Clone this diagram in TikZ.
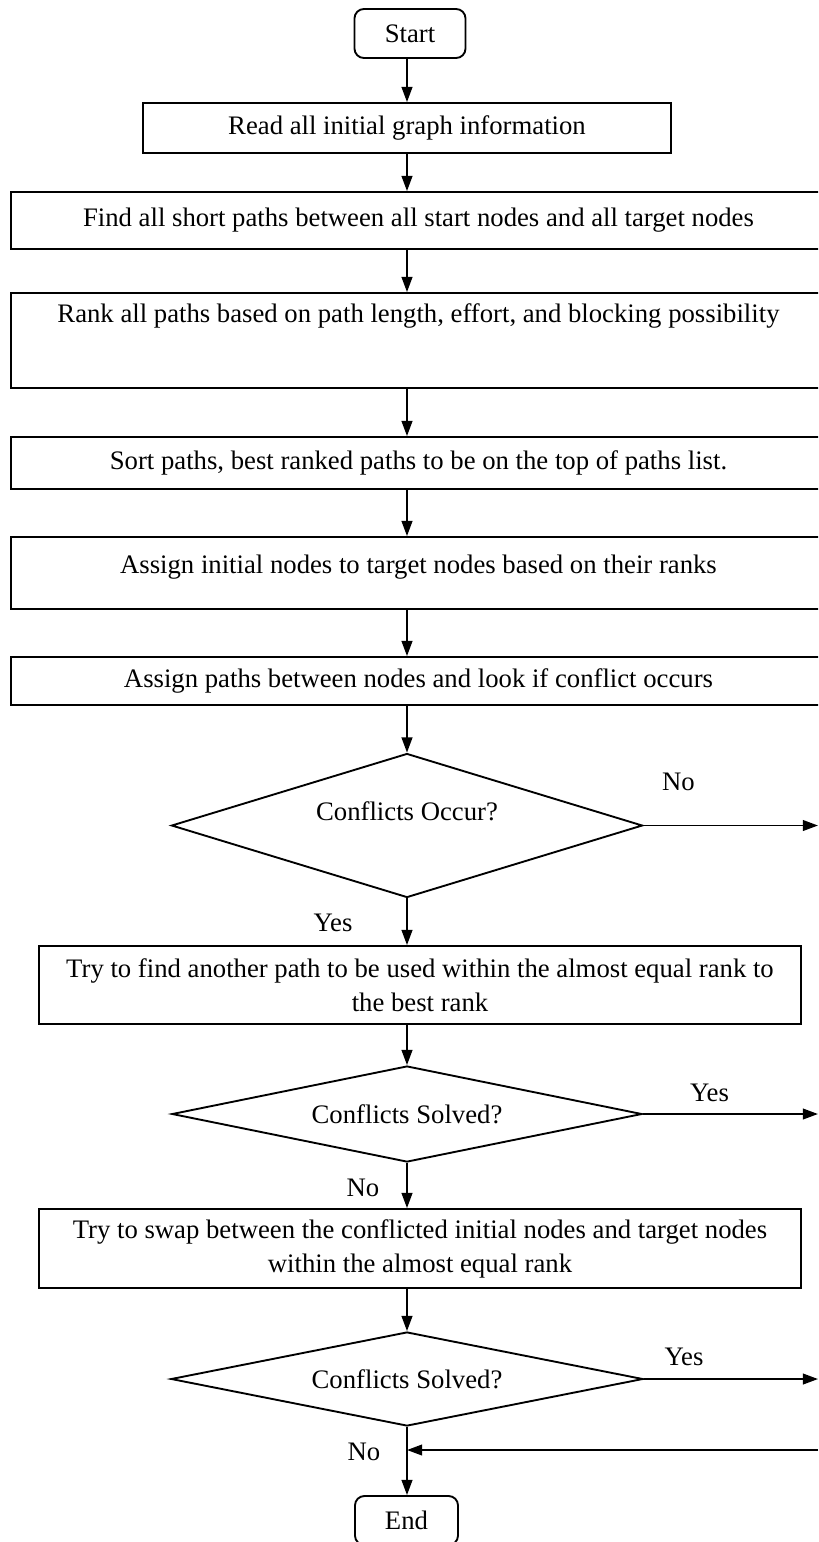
\documentclass[tikz,border=0pt]{standalone}
\usepackage{fontspec}
\setmainfont{Liberation Serif}
\usetikzlibrary{shapes.geometric, arrows.meta, positioning}

\begin{document}
\begin{tikzpicture}[
        x=0.015cm, y=-0.015cm,
        startstop/.style={rectangle, draw=black, thick, rounded corners=4pt, minimum height=0.735cm, font=\fontsize{11.4}{14}\selectfont},
        process/.style={rectangle, draw=black, thick, align=center, font=\fontsize{11.4}{14.5}\selectfont},
        decision/.style={diamond, draw=black, thick, aspect=3.3, inner sep=0pt, font=\fontsize{11.4}{14}\selectfont},
        answer/.style={font=\fontsize{11.4}{14}\selectfont},
        arrow/.style={thick, ->, >={Triangle[length=6.5pt, width=4.6pt]}}
    ]
    \useasboundingbox (0,0) rectangle (818,1542);
    \clip (0,0) rectangle (818,1542);

    \coordinate (axis) at (407,0);

    % --- START ---
    \node (start) [startstop, minimum width=1.665cm] at (410,33.5) {Start};
    \node (read) [process, minimum width=7.92cm, minimum height=0.75cm] at (407,128) {Read all initial graph information};

    % --- PATHS ---
    \node (find) [process, minimum width=12.225cm, minimum height=0.855cm] at (418.5,220.5) {Find all short paths between all start nodes and all target nodes};
    \node (rank) [process, minimum width=12.225cm, inner ysep=0pt, text height=0.445cm, text depth=0.98cm] at (418.5,340.5) {Rank all paths based on path length, effort, and blocking possibility};
    \node (sort) [process, minimum width=12.225cm, minimum height=0.78cm] at (418.5,463) {Sort paths, best ranked paths to be on the top of paths list.};

    % --- ASSIGNMENT ---
    \node (assign) [process, minimum width=12.225cm, inner ysep=0pt, text height=0.54cm, text depth=0.54cm] at (418.5,573) {Assign initial nodes to target nodes based on their ranks};
    \node (look) [process, minimum width=12.225cm, minimum height=0.72cm] at (418.5,681) {Assign paths between nodes and look if conflict occurs};

    % --- CONFLICT HANDLING ---
    \node (occur) [decision, minimum width=7.065cm, minimum height=2.16cm, text height=0.3cm, text depth=0.45cm] at (407,825.5) {Conflicts Occur?};
    \node (another) [process, minimum width=11.43cm, minimum height=1.17cm] at (420,985) {Try to find another path to be used within the almost equal rank to\\the best rank};
    \node (solved1) [decision, minimum width=7.05cm, minimum height=1.44cm] at (407,1114) {Conflicts Solved?};
    \node (swap) [process, minimum width=11.43cm, minimum height=1.185cm] at (420,1248.5) {Try to swap between the conflicted initial nodes and target nodes\\within the almost equal rank};
    \node (solved2) [decision, minimum width=7.08cm, minimum height=1.41cm] at (407,1379) {Conflicts Solved?};

    % --- END ---
    \node (end) [startstop, minimum width=1.545cm] at (406.5,1520.5) {End};

    % --- OFF-PAGE ENDS ---
    \coordinate (out1) at (818,825.5);
    \coordinate (out2) at (818,1114);
    \coordinate (out3) at (818,1379);
    \coordinate (back) at (818,1450);

    % --- ARROWS ---
    \draw [arrow] (start.south -| axis) -- (read.north -| axis);
    \draw [arrow] (read.south -| axis) -- (find.north -| axis);
    \draw [arrow] (find.south -| axis) -- (rank.north -| axis);
    \draw [arrow] (rank.south -| axis) -- (sort.north -| axis);
    \draw [arrow] (sort.south -| axis) -- (assign.north -| axis);
    \draw [arrow] (assign.south -| axis) -- (look.north -| axis);
    \draw [arrow] (look.south -| axis) -- (occur.north);
    \draw [arrow] (occur.south) -- node[answer, pos=0.53, xshift=-1.11cm] {Yes} (another.north -| axis);
    \draw [arrow] (another.south -| axis) -- (solved1.north);
    \draw [arrow] (solved1.south) -- node[answer, pos=0.55, xshift=-0.66cm] {No} (swap.north -| axis);
    \draw [arrow] (swap.south -| axis) -- (solved2.north);
    \draw [arrow] (solved2.south) -- node[answer, pos=0.37, xshift=-0.645cm] {No} (end.north -| axis);

    % --- SIDE EXITS ---
    \draw [arrow] (occur.east) -- node[answer, pos=0.2, yshift=0.66cm] {No} (out1);
    \draw [arrow] (solved1.east) -- node[answer, pos=0.38, yshift=0.315cm] {Yes} (out2);
    \draw [arrow] (solved2.east) -- node[answer, pos=0.23, yshift=0.33cm] {Yes} (out3);
    \draw [arrow] (back) -- (back -| axis);

\end{tikzpicture}
\end{document}
